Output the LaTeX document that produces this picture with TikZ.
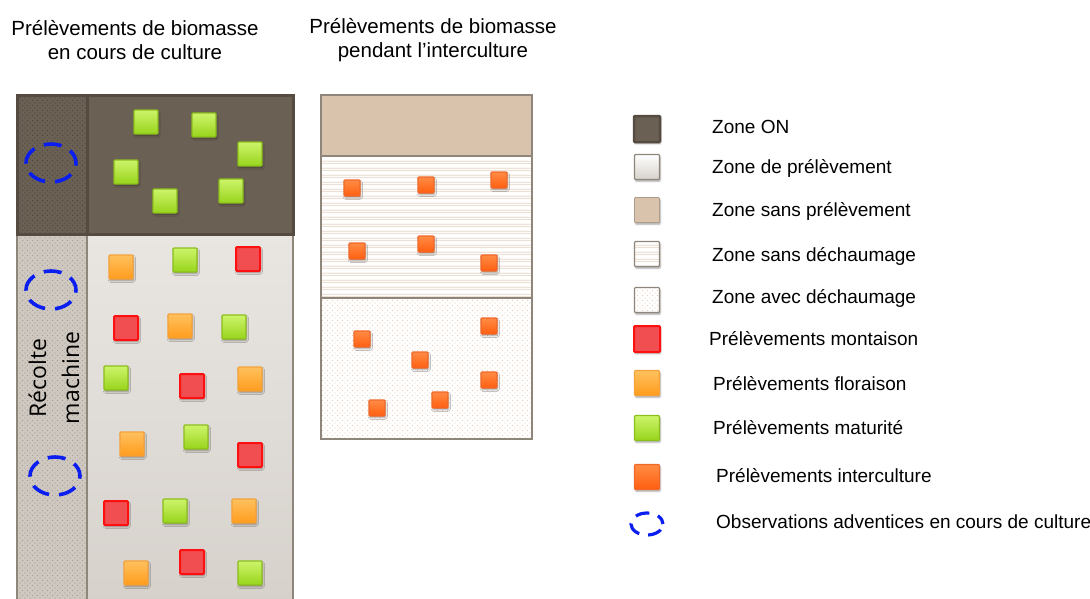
\documentclass[tikz,border=0pt]{standalone}
\usepackage{fontspec}
\setmainfont{Liberation Sans}
\newfontfamily\recfont{Open Sans}
\usetikzlibrary{shapes.geometric,patterns,patterns.meta,shadows.blur}
\definecolor{zOn}{HTML}{6B6054}
\definecolor{zOnDark}{HTML}{554B41}
\definecolor{zOnDot}{HTML}{4E453C}
\definecolor{zGrey}{HTML}{8E857B}
\definecolor{zLightTop}{HTML}{E9E6E2}
\definecolor{zLightBot}{HTML}{D6D1CB}
\definecolor{zStrip}{HTML}{CFC8C0}
\definecolor{zStripDot}{HTML}{A39B92}
\definecolor{zTan}{HTML}{DAC3AD}
\definecolor{zTanLine}{HTML}{EADBCE}
\definecolor{zTanDot}{HTML}{EDCDB6}
\definecolor{matTop}{HTML}{CDF46A}
\definecolor{matBot}{HTML}{98D41C}
\definecolor{matLine}{HTML}{8CBE1C}
\definecolor{floTop}{HTML}{FFC15E}
\definecolor{floBot}{HTML}{FF9C1C}
\definecolor{floLine}{HTML}{F4A23A}
\definecolor{monFill}{HTML}{F04E50}
\definecolor{monLine}{HTML}{FF1010}
\definecolor{icTop}{HTML}{FF8C44}
\definecolor{icBot}{HTML}{FF5E10}
\definecolor{icLine}{HTML}{F0682A}
\definecolor{obsBlue}{HTML}{0A1EF0}
\tikzdeclarepattern{
  name=sparsedots, type=uncolored,
  bounding box={(-1pt,-1pt) and (5pt,5pt)},
  tile size={(5pt,5pt)},
  code={\fill (0pt,0pt) circle (.6pt); \fill (2.5pt,2.5pt) circle (.6pt);}
}
\tikzdeclarepattern{
  name=wavylines, type=uncolored,
  bounding box={(0pt,-1pt) and (4pt,4pt)},
  tile size={(4pt,7pt)},
  code={\draw[line width=.45pt] (0pt,0pt)--(1pt,1pt)--(2pt,0pt)--(3pt,1pt)--(4pt,0pt);
        \draw[line width=.45pt] (0pt,2.2pt)--(1pt,3.2pt)--(2pt,2.2pt)--(3pt,3.2pt)--(4pt,2.2pt);}
}
\tikzset{
  zone/.style={draw=zGrey, line width=1.5pt, inner sep=0pt, anchor=north west},
  smp/.style={inner sep=0pt, minimum size=24, line width=1.2pt, rounded corners=1pt,
              blur shadow={shadow blur steps=4, shadow xshift=.8pt, shadow yshift=-1.8pt,
              shadow blur radius=1.6pt, shadow opacity=35}},
  mat/.style={smp, draw=matLine, top color=matTop, bottom color=matBot},
  flo/.style={smp, draw=floLine, top color=floTop, bottom color=floBot},
  mon/.style={smp, draw=monLine, fill=monFill, line width=2pt},
  ic/.style={smp, minimum size=16, draw=icLine, top color=icTop, bottom color=icBot},
  obs/.style={ellipse, draw=obsBlue, line width=3.6pt, dash pattern=on 18pt off 10pt,
              dash phase=4pt, minimum width=50, minimum height=38, inner sep=0pt},
  ttl/.style={align=center, font=\fontsize{20.5}{24.5}\selectfont},
  leg/.style={anchor=west, inner sep=0pt, font=\fontsize{19}{23}\selectfont},
}
\begin{document}
\begin{tikzpicture}[x=1pt,y=-1pt]
  \useasboundingbox (0,0) rectangle (1090,598);
  % titres
  \node[ttl] (t1) at (135,40) {Prélèvements de biomasse\\en cours de culture};
  \node[ttl] (t2) at (433,40) {Prélèvements de biomasse\\pendant l’interculture};
  % parcelle en cours de culture
  \node[zone, minimum width=276, minimum height=372, top color=zLightTop, bottom color=zLightBot] (prz) at (16,233) {};
  \node[zone, minimum width=70, minimum height=372, preaction={fill=zStrip}, pattern=sparsedots, pattern color=zStripDot] (prs) at (16,233) {};
  \node[zone, draw=zOnDark, line width=3pt, minimum width=276, minimum height=139, fill=zOn] (onz) at (16,94) {};
  \node[zone, draw=zOnDark, line width=2.5pt, minimum width=70, minimum height=139, preaction={fill=zOn}, pattern=sparsedots, pattern color=zOnDot] (ons) at (16,94) {};
  \node[rotate=90, align=center, font=\recfont\fontsize{23}{33}\selectfont] (rec) at (54,378) {Récolte\\machine};
  \node[obs] (e1) at (51,163) {}; \node[obs] (e2) at (51,290) {}; \node[obs] (e3) at (55,476) {};
  \node[mat] (g1) at (146,122) {}; \node[mat] (g2) at (204,125) {}; \node[mat] (g3) at (250,154) {};
  \node[mat] (g4) at (126,172) {}; \node[mat] (g5) at (231,191) {}; \node[mat] (g6) at (165,201) {};
  \node[flo] (f1) at (121,267) {}; \node[mat] (g7) at (185,260) {}; \node[mon] (m1) at (248,259) {};
  \node[mon] (m2) at (126,328) {}; \node[flo] (f2) at (180,326) {}; \node[mat] (g8) at (234,327) {};
  \node[mat] (g9) at (116,378) {}; \node[mon] (m3) at (192,386) {}; \node[flo] (f3) at (250,379) {};
  \node[flo] (f4) at (132,444) {}; \node[mat] (g10) at (196,437) {}; \node[mon] (m4) at (250,455) {};
  \node[mon] (m5) at (116,513) {}; \node[mat] (g11) at (175,511) {}; \node[flo] (f5) at (244,511) {};
  \node[flo] (f6) at (136,573) {}; \node[mon] (m6) at (192,562) {}; \node[mat] (g12) at (250,573) {};
  % parcelle interculture
  \node[zone, minimum width=211, minimum height=61, fill=zTan] (sp) at (320,94) {};
  \node[zone, minimum width=211, minimum height=142, preaction={fill=white}, pattern=wavylines, pattern color=zTanLine] (sd) at (320,155) {};
  \node[zone, minimum width=211, minimum height=141, preaction={fill=white}, pattern=sparsedots, pattern color=zTanDot] (ad) at (320,297) {};
  \node[ic] (i1) at (352,188) {}; \node[ic] (i2) at (426,185) {}; \node[ic] (i3) at (499,180) {};
  \node[ic] (i4) at (357,251) {}; \node[ic] (i5) at (426,244) {}; \node[ic] (i6) at (489,263) {};
  \node[ic] (i7) at (362,339) {}; \node[ic] (i8) at (489,326) {}; \node[ic] (i9) at (420,360) {};
  \node[ic] (i10) at (489,380) {}; \node[ic] (i11) at (377,408) {}; \node[ic] (i12) at (440,400) {};
  % legende
  \node[smp, minimum size=26, draw=zOnDark, line width=2.5pt, fill=zOn] (lon) at (647,129) {};
  \node[smp, minimum size=25, draw=zGrey, top color=white, bottom color=zLightBot] (lpr) at (647,167) {};
  \node[smp, minimum size=25, draw=zTan!80!black, line width=.8pt, fill=zTan] (lsp) at (647,210) {};
  \node[smp, minimum size=25, draw=zGrey, preaction={fill=white}, pattern=wavylines, pattern color=zTanLine] (lsd) at (647,254) {};
  \node[smp, minimum size=25, draw=zGrey, preaction={fill=white}, pattern=sparsedots, pattern color=zTanDot] (lad) at (647,300) {};
  \node[mon, minimum size=26] (lmo) at (647,339) {};
  \node[flo, minimum size=25] (lfl) at (647,383) {};
  \node[mat, minimum size=25] (lma) at (647,428) {};
  \node[ic, minimum size=25] (lic) at (647,477) {};
  \node[obs, minimum width=32, minimum height=22, line width=3.2pt, dash pattern=on 14pt off 9pt] (lob) at (647,524) {};
  \node[leg] (xon) at (712,127) {Zone ON};
  \node[leg] (xpr) at (712,168) {Zone de prélèvement};
  \node[leg] (xsp) at (712,211) {Zone sans prélèvement};
  \node[leg] (xsd) at (712,256) {Zone sans déchaumage};
  \node[leg] (xad) at (712,298) {Zone avec déchaumage};
  \node[leg] (xmo) at (709,339) {Prélèvements montaison};
  \node[leg] (xfl) at (713,384) {Prélèvements floraison};
  \node[leg] (xma) at (713,428) {Prélèvements maturité};
  \node[leg] (xic) at (716,476) {Prélèvements interculture};
  \node[leg] (xob) at (716,522) {Observations adventices en cours de culture};
\end{tikzpicture}
\end{document}
